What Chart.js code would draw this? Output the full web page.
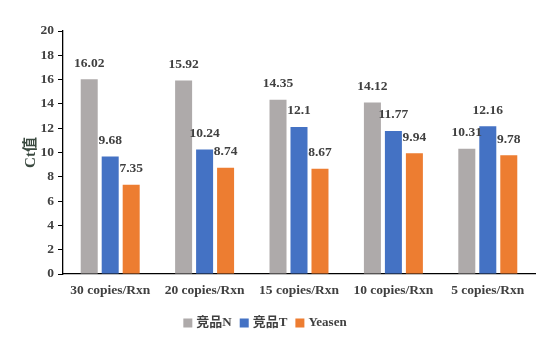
<!DOCTYPE html>
<html><head><meta charset="utf-8">
<script src="https://cdn.jsdelivr.net/npm/chart.js@4/dist/chart.umd.min.js"></script>
<style>html,body{margin:0;padding:0;background:#fff}#wrap{width:555px;height:342px}</style>
</head><body><div id="wrap"><canvas id="c" width="555" height="342"></canvas></div>
<script>
const categories = ["30 copies/Rxn","20 copies/Rxn","15 copies/Rxn","10 copies/Rxn","5 copies/Rxn"];
const seriesNames = ["竞品N","竞品T","Yeasen"];
const valuesN = [16.02,15.92,14.35,14.12,10.31];
const valuesT = [9.68,10.24,12.1,11.77,12.16];
const valuesYeasen = [7.35,8.74,8.67,9.94,9.78];
const labelsN = ["16.02","15.92","14.35","14.12","10.31"];
const labelsT = ["9.68","10.24","12.1","11.77","12.16"];
const labelsYeasen = ["7.35","8.74","8.67","9.94","9.78"];
const yTicks = [0,2,4,6,8,10,12,14,16,18,20];

const FONT = "'Liberation Serif','Times New Roman','Noto Sans CJK SC',serif";
const TXT = '#404040';
const labelSets = [labelsN, labelsT, labelsYeasen];

const valueLabels = {
  id:'valueLabels',
  afterDatasetsDraw(chart){
    const ctx = chart.ctx;
    ctx.save();
    ctx.font = "bold 13.5px " + FONT;
    ctx.fillStyle = TXT;
    ctx.textAlign = 'center';
    ctx.textBaseline = 'middle';
    chart.data.datasets.forEach((ds,i)=>{
      chart.getDatasetMeta(i).data.forEach((bar,j)=>{
        ctx.fillText(labelSets[i][j], bar.x, bar.y - 16);
      });
    });
    ctx.restore();
  }
};

const customLegend = {
  id:'customLegend',
  afterDraw(chart){
    const ctx = chart.ctx;
    ctx.save();
    ctx.font = "bold 13px " + FONT;
    ctx.textBaseline = 'middle';
    ctx.textAlign = 'left';
    const y = 323;
    const widths = chart.data.datasets.map(ds => ctx.measureText(ds.label).width);
    const total = widths.reduce((a,w)=>a+9+4+w,0) + 8*(widths.length-1);
    let x = 265 - total/2;
    chart.data.datasets.forEach((ds,i)=>{
      ctx.fillStyle = ds.backgroundColor;
      ctx.fillRect(x, y-4.5, 9, 9);
      ctx.fillStyle = TXT;
      ctx.fillText(ds.label, x+13, y);
      x += 13 + widths[i] + 8;
    });
    ctx.restore();
  }
};

new Chart(document.getElementById('c'), {
  type:'bar',
  data:{
    labels: categories,
    datasets:[
      {label:seriesNames[0], data:valuesN, backgroundColor:'#aeaaaa'},
      {label:seriesNames[1], data:valuesT, backgroundColor:'#4472c4'},
      {label:seriesNames[2], data:valuesYeasen, backgroundColor:'#ed7d31'}
    ]
  },
  options:{
    responsive:false, animation:false, devicePixelRatio:1,
    layout:{padding:{left:22,right:20,top:31,bottom:32}},
    datasets:{bar:{categoryPercentage:0.667,barPercentage:0.81}},
    plugins:{
      legend:{display:false},
      tooltip:{enabled:false}
    },
    scales:{
      x:{
        grid:{display:false, drawTicks:false},
        border:{color:'#000', width:1.3},
        ticks:{color:TXT, padding:8, font:{family:FONT, size:13.5, weight:'bold'}, maxRotation:0},
        afterFit(s){ s.height = 36; }
      },
      y:{
        min:0, max:20,
        afterBuildTicks(s){ s.ticks = yTicks.map(v=>({value:v})); },
        grid:{drawOnChartArea:false, drawTicks:true, tickLength:5, color:'#000'},
        border:{color:'#000', width:1.3},
        ticks:{color:TXT, padding:4, font:{family:FONT, size:13.5, weight:'bold'}},
        title:{display:true, text:'Ct值', color:'#3b4a40', font:{family:FONT, size:15, weight:'bold'}, padding:{top:0,bottom:4}},
        afterFit(s){ s.width = 41; }
      }
    }
  },
  plugins:[valueLabels, customLegend]
});
</script></body></html>
